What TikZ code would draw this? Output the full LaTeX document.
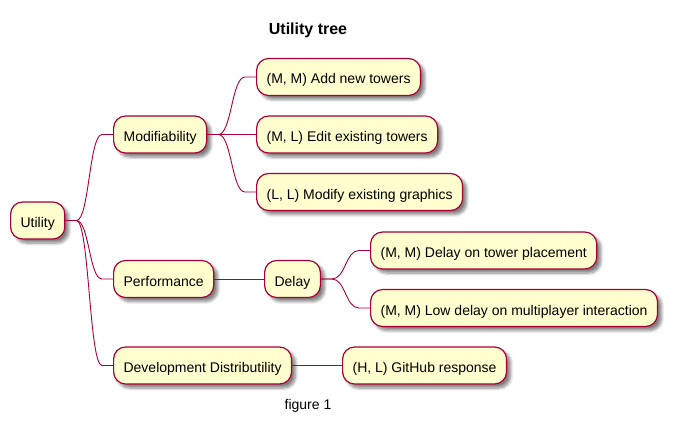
\documentclass[tikz,border=0pt]{standalone}
\usepackage{fontspec}
\setmainfont{Liberation Sans}
\usetikzlibrary{shadows.blur,calc}
\definecolor{boxfill}{HTML}{FEFECE}
\definecolor{boxline}{HTML}{A80036}
\begin{document}
\begin{tikzpicture}[x=1pt,y=-1pt,
  mmnode/.style={draw=boxline, fill=boxfill, line width=1.2pt, rounded corners=12pt,
    anchor=west, inner xsep=10pt, inner ysep=0pt, minimum height=37pt,
    text height=16pt, text depth=2pt,
    font=\fontsize{14}{16}\selectfont,
    blur shadow={shadow xshift=4pt, shadow yshift=-4pt, shadow blur steps=6, shadow blur radius=3pt, shadow opacity=50}},
  link/.style={draw=boxline, line width=0.9pt}]
\useasboundingbox (0,0) rectangle (677,425);
\node[font=\fontsize{16}{18}\selectfont\bfseries] (title) at (308,30) {Utility tree};
\node[font=\fontsize{14}{16}\selectfont] (cap) at (308,406) {figure 1};

\node[mmnode] (u) at (10,220.5) {Utility};
\node[mmnode] (m) at (113,134.5) {Modifiability};
\node[mmnode] (m1) at (256,77) {(M, M) Add new towers};
\node[mmnode] (m2) at (256,134.5) {(M, L) Edit existing towers};
\node[mmnode] (m3) at (256,192) {(L, L) Modify existing graphics};
\node[mmnode] (p) at (113,279) {Performance};
\node[mmnode] (d) at (264,279) {Delay};
\node[mmnode] (d1) at (370,250.5) {(M, M) Delay on tower placement};
\node[mmnode] (d2) at (370,308) {(M, M) Low delay on multiplayer interaction};
\node[mmnode] (dd) at (113,365.5) {Development Distributility};
\node[mmnode] (g) at (342,365.5) {(H, L) GitHub response};

\foreach \a/\b in {u/m,u/p,u/dd,m/m1,m/m2,m/m3,d/d1,d/d2}{
  \draw[link] let \p1=($(\a.east)+(11,0)$), \p2=($(\b.west)+(-11,0)$) in
    (\a.east) -- (\p1) .. controls ({(\x1+\x2)/2},\y1) and ({(\x1+\x2)/2},\y2) .. (\p2) -- (\b.west);
}
\draw[link] (p.east) -- (d.west);
\draw[link] (dd.east) -- (g.west);
\end{tikzpicture}
\end{document}
